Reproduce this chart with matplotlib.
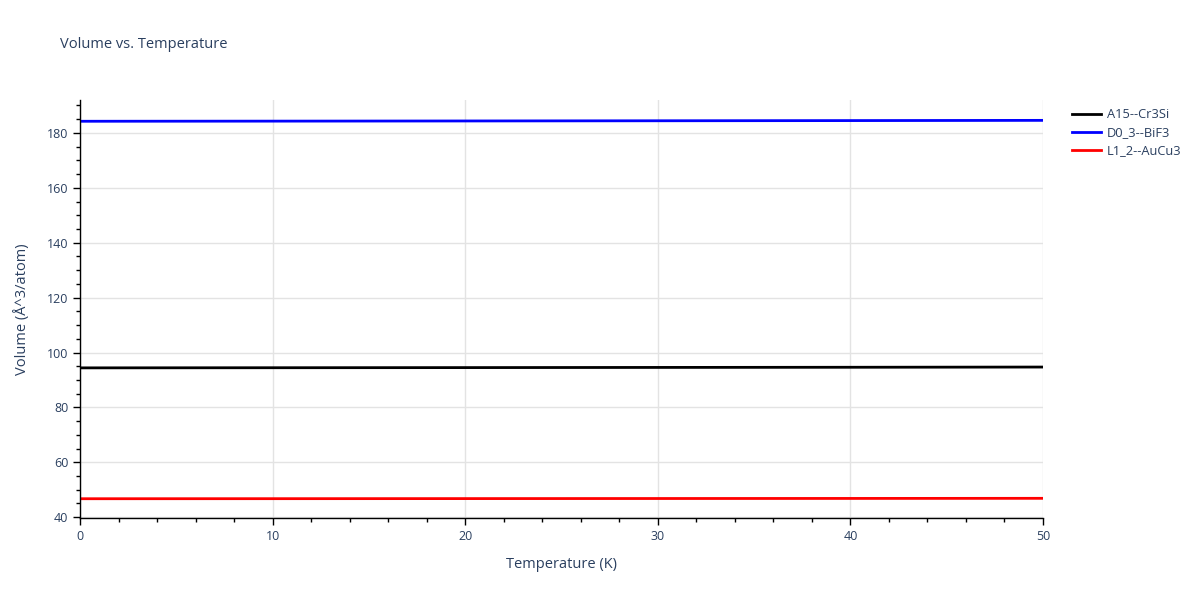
import matplotlib
matplotlib.use("Agg")
import matplotlib.pyplot as plt
from matplotlib.ticker import MultipleLocator

plt.rcParams["font.family"] = ["Open Sans", "DejaVu Sans"]

# Data
temperature = [0, 10, 20, 30, 40, 50]
a15_cr3si = [94.40, 94.45, 94.50, 94.56, 94.62, 94.70]
d0_3_bif3 = [184.25, 184.30, 184.36, 184.43, 184.50, 184.58]
l1_2_aucu3 = [46.72, 46.74, 46.77, 46.80, 46.83, 46.87]

series = [
    ("A15--Cr3Si", a15_cr3si, "black"),
    ("D0_3--BiF3", d0_3_bif3, "blue"),
    ("L1_2--AuCu3", l1_2_aucu3, "red"),
]

TEXT = "#2a3f5f"
GRID = "#e3e3e3"

fig = plt.figure(figsize=(12, 6), dpi=100)
ax = fig.add_axes([80 / 1200, 1 - 518 / 600, (1043 - 80) / 1200, (518 - 100) / 600])

for name, vals, color in series:
    ax.plot(temperature, vals, color=color, linewidth=2, label=name)

ax.set_xlim(0, 50)
ax.set_ylim(39.7, 192)
ax.xaxis.set_major_locator(MultipleLocator(10))
ax.xaxis.set_minor_locator(MultipleLocator(2))
ax.yaxis.set_major_locator(MultipleLocator(20))
ax.yaxis.set_minor_locator(MultipleLocator(5))

ax.grid(True, which="major", color=GRID, linewidth=1)
ax.set_axisbelow(True)
for side in ("top", "right"):
    ax.spines[side].set_visible(False)
for side in ("left", "bottom"):
    ax.spines[side].set_color("black")
    ax.spines[side].set_linewidth(1)

ax.tick_params(which="major", direction="out", length=5, width=1, color="black",
               labelsize=9, labelcolor=TEXT)
ax.tick_params(which="minor", direction="out", length=3, width=1, color="black")

ax.set_xlabel("Temperature (K)", fontsize=10.5, color=TEXT, labelpad=10)
ax.set_ylabel("Volume (Å^3/atom)", fontsize=10.5, color=TEXT, labelpad=12)

fig.text(60 / 1200, 1 - 45 / 600, "Volume vs. Temperature", fontsize=10.5,
         color=TEXT, va="center", ha="left")

leg = ax.legend(loc="upper left", bbox_to_anchor=(1.025, 0.993), frameon=False,
                fontsize=9.3, handlelength=2.2, handletextpad=0.5, labelspacing=0.4,
                borderaxespad=0.0)
for t in leg.get_texts():
    t.set_color(TEXT)

fig.savefig("out.png", dpi=100)
